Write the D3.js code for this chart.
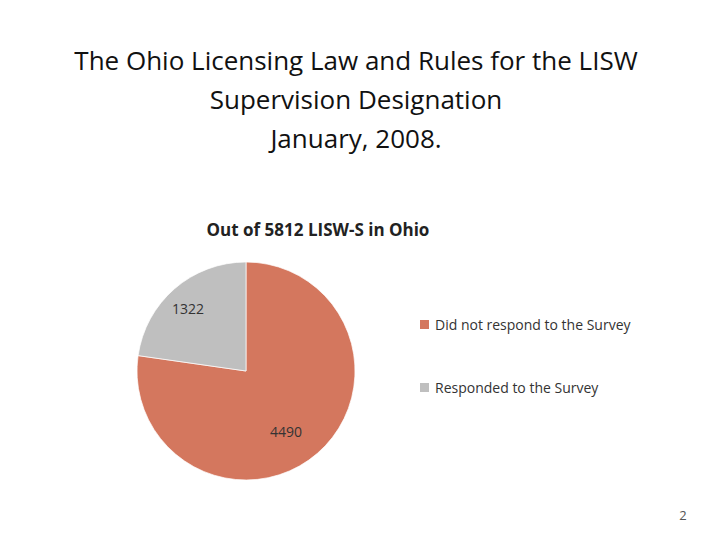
<!DOCTYPE html><html><head><script src="https://cdn.jsdelivr.net/npm/d3@7"></script>
<style>body{margin:0;background:#fff}text{font-family:"Open Sans","Noto Sans",sans-serif}</style></head><body>
<svg id="c" width="720" height="540"></svg>
<script>
const categories=["Did not respond to the Survey","Responded to the Survey"];
const values=[4490,1322];
const colors=["#D4775E","#BFBFBF"];
const titleLines=["The Ohio Licensing Law and Rules for the LISW","Supervision Designation","January, 2008."];
const svg=d3.select("#c");
svg.selectAll(".t").data(titleLines).enter().append("text").attr("x",356).attr("y",(d,i)=>70+i*39)
 .attr("text-anchor","middle").attr("font-size",26).attr("fill","#111").text(d=>d);
svg.append("text").attr("x",318).attr("y",236).attr("text-anchor","middle").attr("font-size",17).attr("font-weight","bold").attr("fill","#222").text("Out of  5812 LISW-S in Ohio");
const pie=d3.pie().sort(null).startAngle(0).endAngle(2*Math.PI)(values);
const arc=d3.arc().innerRadius(0).outerRadius(109);
const g=svg.append("g").attr("transform","translate(246,371)");
g.selectAll("path").data(pie).enter().append("path").attr("d",arc).attr("fill",(d,i)=>colors[i]).attr("stroke","#fff").attr("stroke-width",0.7);
const lab=[[286,437],[188,314]];
svg.selectAll(".l").data(values).enter().append("text").attr("x",(d,i)=>lab[i][0]).attr("y",(d,i)=>lab[i][1]).attr("text-anchor","middle").attr("font-size",14).attr("fill","#333").text(d=>d);
const lg=svg.selectAll(".lg").data(categories).enter().append("g").attr("transform",(d,i)=>`translate(420,${320+i*63})`);
lg.append("rect").attr("width",9).attr("height",9).attr("fill",(d,i)=>colors[i]);
lg.append("text").attr("x",15).attr("y",10).attr("font-size",14).attr("fill","#333").text(d=>d);
svg.append("text").attr("x",683).attr("y",520).attr("text-anchor","middle").attr("font-size",13).attr("fill","#555").text("2");
</script></body></html>
